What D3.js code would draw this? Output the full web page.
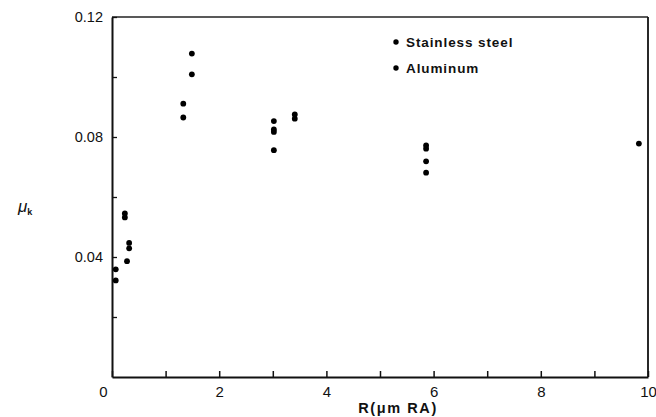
<!DOCTYPE html>
<html>
<head>
<meta charset="utf-8">
<script src="https://cdn.jsdelivr.net/npm/d3@7"></script>
<style>
  html, body { margin: 0; padding: 0; background: #fff; }
  svg { display: block; }
  text { font-family: "Liberation Sans", Arial, sans-serif; fill: #111; }
</style>
</head>
<body>
<svg id="chart" width="656" height="417"></svg>
<script>
// Surface roughness R (µm RA) and kinetic friction coefficient µk
const steelR  = [0.07, 0.24, 0.32, 0.28, 1.33, 1.49, 3.02, 3.02, 3.41, 5.86, 5.86, 9.83];
const steelMu = [0.0359, 0.0545, 0.0447, 0.0386, 0.0911, 0.1078, 0.0853, 0.0825, 0.0875, 0.0772, 0.0719, 0.0778];
const aluR    = [0.07, 0.24, 0.32, 1.33, 1.49, 3.02, 3.02, 3.41, 5.86, 5.86];
const aluMu   = [0.0322, 0.0532, 0.0429, 0.0865, 0.1009, 0.0817, 0.0756, 0.0861, 0.0761, 0.0681];

const xTicks = [0, 1, 2, 3, 4, 5, 6, 7, 8, 9, 10];
const xLabels = [0, 2, 4, 6, 8, 10];
const yTicks = [0.02, 0.04, 0.06, 0.08, 0.10, 0.12];
const yLabels = ["0.04", "0.08", "0.12"];
const legendNames = ["Stainless steel", "Aluminum"];

const svg = d3.select("#chart");
const m = { left: 112, right: 648, top: 17, bottom: 377 };

const x = d3.scaleLinear().domain([0, 10]).range([m.left, m.right]);
const y = d3.scaleLinear().domain([0, 0.12]).range([m.bottom, m.top]);

// frame
svg.append("line").attr("x1", m.left).attr("x2", m.right).attr("y1", m.top).attr("y2", m.top)
  .attr("stroke", "#222").attr("stroke-width", 1.4);
svg.append("line").attr("x1", m.right).attr("x2", m.right).attr("y1", m.top).attr("y2", m.bottom)
  .attr("stroke", "#111").attr("stroke-width", 1.8);

// x axis: inward ticks at each integer, labels at even values
const xAxis = d3.axisBottom(x).tickValues(xTicks).tickSizeInner(-6).tickSizeOuter(0)
  .tickFormat(d => xLabels.includes(d) ? d : "");
const gx = svg.append("g").attr("transform", `translate(0,${m.bottom})`).call(xAxis);
gx.select(".domain").attr("stroke", "#111").attr("stroke-width", 2);
gx.selectAll(".tick line").attr("stroke", "#111").attr("stroke-width", 1.5);
gx.selectAll(".tick text").attr("font-size", 15).attr("dy", "1.15em").attr("fill", "#111");
gx.selectAll(".tick text").filter(d => d === 0).attr("dx", -9);

// y axis: inward ticks, labels at 0.04 steps
const yAxis = d3.axisLeft(y).tickValues(yTicks).tickSizeInner(-5).tickSizeOuter(0)
  .tickFormat(d => { const s = d3.format(".2f")(d); return yLabels.includes(s) ? s : ""; });
const gy = svg.append("g").attr("transform", `translate(${m.left},0)`).call(yAxis);
gy.select(".domain").attr("stroke", "#111").attr("stroke-width", 2);
gy.selectAll(".tick line").attr("stroke", "#111").attr("stroke-width", 1.3);
gy.selectAll(".tick text").attr("font-size", 14.5).attr("x", -9).attr("fill", "#111");

// data points
const pts = steelR.map((r, i) => ({ r, mu: steelMu[i] }))
  .concat(aluR.map((r, i) => ({ r, mu: aluMu[i] })));
svg.append("g").selectAll("circle").data(pts).join("circle")
  .attr("cx", d => x(d.r)).attr("cy", d => y(d.mu)).attr("r", 2.9).attr("fill", "#000");

// legend
const lg = svg.append("g");
legendNames.forEach((name, i) => {
  const yy = 42 + i * 26;
  lg.append("circle").attr("cx", 396).attr("cy", yy).attr("r", 2.7).attr("fill", "#000");
  lg.append("text").attr("x", 406).attr("y", yy).attr("dy", "0.36em")
    .attr("font-size", 13.5).attr("font-weight", "bold").attr("letter-spacing", 0.9)
    .text(name);
});

// axis titles
svg.append("text").attr("x", 398).attr("y", 413).attr("text-anchor", "middle")
  .attr("font-size", 14.5).attr("font-weight", "bold").attr("letter-spacing", 1.6).text("R(μm RA)");
const yt = svg.append("text").attr("x", 18).attr("y", 212).attr("font-size", 17).attr("font-style", "italic");
yt.append("tspan").text("μ");
yt.append("tspan").attr("font-size", 9).attr("font-style", "normal").attr("font-weight", "bold").attr("dy", 3).text("k");
</script>
</body>
</html>
